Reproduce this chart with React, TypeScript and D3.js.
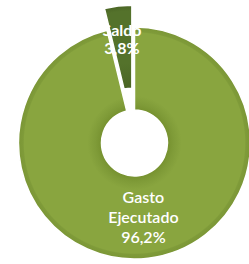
import React from "react";
import * as d3 from "d3";

const categories = ["Gasto Ejecutado", "Saldo"];
const values = [96.2, 3.8];
const labelLines = [["Gasto", "Ejecutado", "96,2%"], ["Saldo", "3,8%"]];

const W = 249;
const H = 264;
const cx = 134.5;
const cy = 143;
const outerR = 116;
const innerR = 33;
const explode = [0, 22];
const colors = ["#89a53f", "#52702a"];

export default function App() {
  const pie = d3
    .pie<number>()
    .sort(null)
    .startAngle(0)
    .endAngle(2 * Math.PI)
    .value((d) => d);
  const arcs = pie(values);
  const arc = d3.arc<d3.PieArcDatum<number>>().innerRadius(innerR).outerRadius(outerR);
  const labelRadius = [74.5, 83];
  const lineH = [20, 18];

  return (
    <svg
      width={W}
      height={H}
      style={{ position: "absolute", left: 0, top: 0, background: "#fff" }}
      fontFamily="Lato, 'Open Sans', sans-serif"
    >
      <defs>
        <radialGradient id="gGasto" gradientUnits="userSpaceOnUse" cx={0} cy={0} r={outerR}>
          <stop offset={innerR / outerR} stopColor="#76912f" />
          <stop offset={(innerR + 6) / outerR} stopColor="#7f9b38" />
          <stop offset={(innerR + 14) / outerR} stopColor="#89a53f" />
          <stop offset={0.95} stopColor="#89a53f" />
          <stop offset={0.96} stopColor="#7f9b39" />
          <stop offset={1} stopColor="#7b9636" />
        </radialGradient>
        <radialGradient id="gSaldo" gradientUnits="userSpaceOnUse" cx={0} cy={0} r={outerR}>
          <stop offset={innerR / outerR} stopColor="#4a6524" />
          <stop offset={0.5} stopColor="#54722b" />
          <stop offset={0.95} stopColor="#54722b" />
          <stop offset={1} stopColor="#4a6424" />
        </radialGradient>
      </defs>
      <g transform={`translate(${cx},${cy})`}>
        {arcs.map((a, i) => {
          const mid = (a.startAngle + a.endAngle) / 2;
          const dx = Math.sin(mid) * explode[i];
          const dy = -Math.cos(mid) * explode[i];
          return (
            <path
              key={categories[i]}
              d={arc(a) || ""}
              transform={`translate(${dx},${dy})`}
              fill={i === 0 ? "url(#gGasto)" : "url(#gSaldo)"}
              stroke="#fff"
              strokeWidth={1.5}
            />
          );
        })}
        {arcs.map((a, i) => {
          const mid = (a.startAngle + a.endAngle) / 2;
          const r = labelRadius[i] + explode[i];
          const x = Math.sin(mid) * r;
          const y = -Math.cos(mid) * r;
          const lines = labelLines[i];
          const n = lines.length;
          return (
            <text
              key={"l" + i}
              x={x}
              y={y}
              textAnchor="middle"
              fill="#fff"
              fontSize={16}
              fontWeight={i === 1 ? 700 : 600}
            >
              {lines.map((t, j) => (
                <tspan key={j} x={x} y={y + (j - (n - 1) / 2) * lineH[i] + 6}>
                  {t}
                </tspan>
              ))}
            </text>
          );
        })}
      </g>
    </svg>
  );
}
